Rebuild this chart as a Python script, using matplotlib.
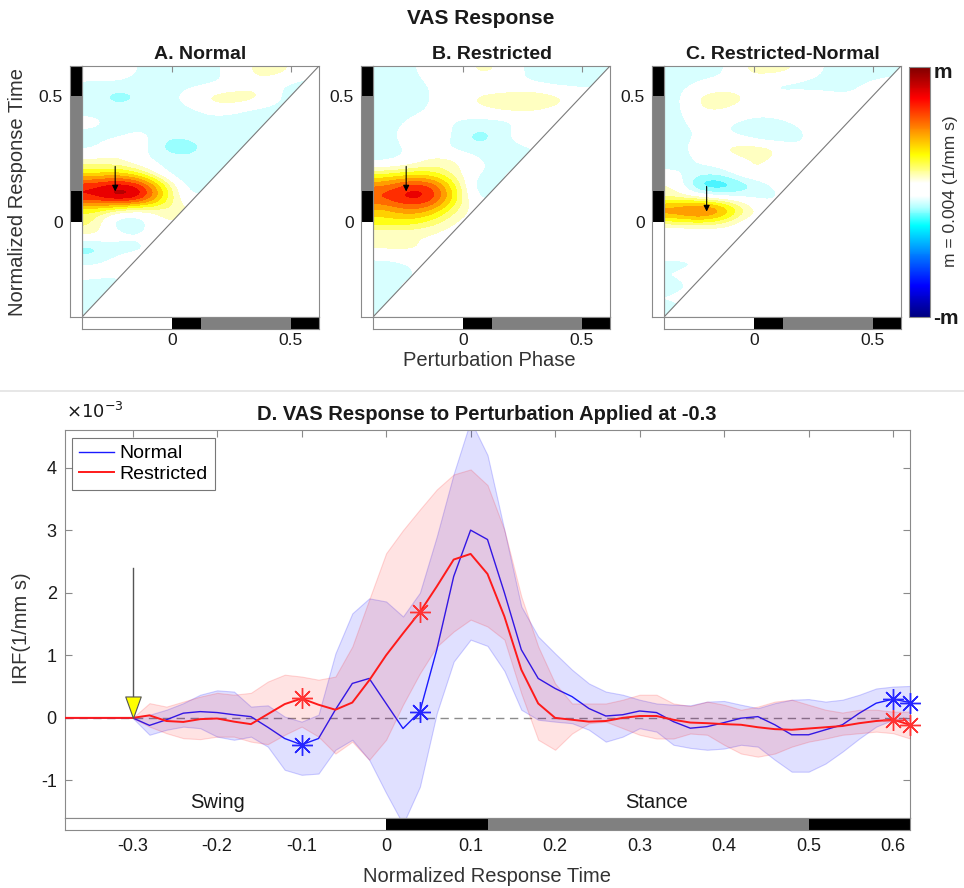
import numpy as np
import matplotlib
matplotlib.use("Agg")
import matplotlib.pyplot as plt
from matplotlib.colors import LinearSegmentedColormap, ListedColormap, BoundaryNorm, Normalize
from matplotlib.patches import Rectangle
from matplotlib.path import Path
from matplotlib.lines import Line2D
from matplotlib.cm import ScalarMappable

plt.rcParams['font.family'] = ['Liberation Sans', 'DejaVu Sans']

# ------------------------------------------------------------------ data
phase_edges = [-0.38, 0.0, 0.12, 0.5, 0.62]
phase_colors = ['white', 'black', '#808080', 'black']
axis_lim = [-0.38, 0.62]

# heatmap grids (values in units of m); rows top (y=0.595) -> bottom (y=-0.355),
# cols x = -0.33, -0.23, ..., 0.57 (cells below the diagonal are hidden)
heat_normal = [
    [0.05, 0.05, -0.10, -0.12, -0.12, -0.10, 0.00, 0.12, 0.12, -0.05],
    [-0.12, -0.12, -0.12, -0.12, -0.10, -0.08, -0.05, 0.05, -0.10, -0.10],
    [-0.12, -0.22, -0.15, -0.12, 0.00, 0.15, 0.20, 0.12, -0.10, -0.10],
    [-0.12, -0.12, -0.12, -0.12, -0.10, 0.00, -0.05, -0.12, -0.10, -0.10],
    [0.00, -0.12, -0.12, -0.12, -0.15, -0.12, -0.12, -0.12, -0.10, -0.10],
    [-0.12, -0.12, 0.00, -0.15, -0.12, -0.12, -0.12, -0.10, -0.10, -0.10],
    [-0.10, 0.10, 0.00, -0.22, -0.22, -0.12, -0.12, -0.10, -0.10, -0.10],
    [0.08, 0.05, -0.05, -0.10, -0.12, -0.12, -0.10, -0.10, -0.10, -0.10],
    [0.30, 0.35, 0.20, -0.10, -0.22, -0.12, -0.10, -0.10, -0.10, -0.10],
    [0.75, 0.88, 0.78, 0.28, -0.15, -0.10, 0.00, 0.00, 0.00, 0.00],
    [0.78, 0.98, 0.88, 0.32, -0.10, 0.00, 0.00, 0.00, 0.00, 0.00],
    [0.25, 0.10, 0.00, 0.15, 0.10, 0.00, 0.00, 0.00, 0.00, 0.00],
    [0.20, -0.22, -0.15, 0.10, 0.00, 0.00, 0.00, 0.00, 0.00, 0.00],
    [0.10, 0.00, -0.05, 0.00, 0.00, 0.00, 0.00, 0.00, 0.00, 0.00],
    [-0.25, -0.12, -0.10, 0.00, 0.00, 0.00, 0.00, 0.00, 0.00, 0.00],
    [-0.10, 0.00, 0.00, 0.00, 0.00, 0.00, 0.00, 0.00, 0.00, 0.00],
    [0.00, -0.05, 0.00, 0.00, 0.00, 0.00, 0.00, 0.00, 0.00, 0.00],
    [-0.12, -0.12, 0.00, 0.00, 0.00, 0.00, 0.00, 0.00, 0.00, 0.00],
    [-0.12, -0.10, 0.00, 0.00, 0.00, 0.00, 0.00, 0.00, 0.00, 0.00],
    [-0.10, -0.10, 0.00, 0.00, 0.00, 0.00, 0.00, 0.00, 0.00, 0.00],
]
heat_restricted = [
    [-0.12, -0.10, 0.00, -0.03, 0.12, 0.05, -0.10, -0.10, -0.12, -0.10],
    [-0.12, -0.12, -0.05, 0.00, -0.05, -0.05, -0.05, -0.10, -0.10, -0.10],
    [-0.12, -0.15, -0.05, 0.00, 0.12, 0.15, 0.20, 0.15, 0.05, 0.00],
    [-0.12, -0.10, -0.05, 0.00, 0.05, 0.10, 0.10, 0.05, 0.00, 0.00],
    [-0.12, -0.05, 0.00, -0.08, -0.12, -0.12, -0.05, -0.05, 0.00, 0.00],
    [-0.12, 0.00, 0.12, -0.12, -0.22, -0.12, 0.10, 0.00, 0.00, 0.00],
    [-0.12, -0.05, 0.00, -0.12, -0.15, -0.12, -0.10, 0.00, 0.00, 0.00],
    [-0.12, -0.05, 0.10, 0.10, -0.05, -0.12, -0.10, 0.00, 0.00, 0.00],
    [0.20, 0.25, 0.25, 0.10, -0.08, -0.08, 0.00, 0.00, 0.00, 0.00],
    [0.55, 0.75, 0.70, 0.25, -0.20, -0.05, 0.00, 0.00, 0.00, 0.00],
    [0.70, 0.85, 0.80, 0.30, -0.15, 0.00, 0.00, 0.00, 0.00, 0.00],
    [0.40, 0.55, 0.45, 0.15, 0.00, 0.00, 0.00, 0.00, 0.00, 0.00],
    [0.30, 0.30, 0.20, 0.05, 0.00, 0.00, 0.00, 0.00, 0.00, 0.00],
    [0.05, 0.05, 0.05, 0.00, 0.00, 0.00, 0.00, 0.00, 0.00, 0.00],
    [0.12, 0.12, 0.05, 0.00, 0.00, 0.00, 0.00, 0.00, 0.00, 0.00],
    [-0.10, -0.05, 0.00, 0.00, 0.00, 0.00, 0.00, 0.00, 0.00, 0.00],
    [-0.12, -0.10, 0.00, 0.00, 0.00, 0.00, 0.00, 0.00, 0.00, 0.00],
    [-0.05, -0.05, 0.00, 0.00, 0.00, 0.00, 0.00, 0.00, 0.00, 0.00],
    [-0.12, -0.10, 0.00, 0.00, 0.00, 0.00, 0.00, 0.00, 0.00, 0.00],
    [-0.10, -0.10, 0.00, 0.00, 0.00, 0.00, 0.00, 0.00, 0.00, 0.00],
]
heat_difference = [
    [-0.12, -0.10, -0.10, 0.10, 0.12, 0.08, -0.05, -0.12, -0.12, -0.10],
    [-0.12, -0.05, 0.00, 0.00, -0.10, -0.12, -0.12, -0.10, -0.05, 0.00],
    [-0.12, 0.12, 0.16, 0.08, -0.05, 0.00, 0.00, -0.05, -0.05, 0.00],
    [-0.12, 0.08, 0.08, 0.00, 0.00, 0.05, 0.12, -0.05, 0.00, 0.00],
    [-0.12, 0.00, -0.05, -0.10, -0.12, -0.05, 0.00, -0.05, 0.00, 0.00],
    [-0.12, -0.05, -0.05, -0.12, -0.25, -0.12, 0.00, 0.00, 0.00, 0.00],
    [-0.12, 0.00, 0.10, 0.16, 0.14, -0.05, -0.05, 0.00, 0.00, 0.00],
    [-0.12, -0.05, 0.00, 0.05, 0.08, -0.05, 0.00, 0.00, 0.00, 0.00],
    [-0.05, -0.10, -0.10, 0.12, 0.05, -0.05, 0.00, 0.00, 0.00, 0.00],
    [0.10, -0.40, -0.40, -0.25, -0.05, 0.00, 0.00, 0.00, 0.00, 0.00],
    [0.12, 0.08, -0.02, -0.05, -0.12, 0.00, 0.00, 0.00, 0.00, 0.00],
    [0.62, 0.80, 0.60, 0.15, 0.00, 0.00, 0.00, 0.00, 0.00, 0.00],
    [0.18, 0.22, 0.15, -0.05, 0.00, 0.00, 0.00, 0.00, 0.00, 0.00],
    [-0.12, -0.10, -0.05, 0.00, 0.00, 0.00, 0.00, 0.00, 0.00, 0.00],
    [0.15, 0.12, 0.00, 0.00, 0.00, 0.00, 0.00, 0.00, 0.00, 0.00],
    [-0.12, -0.10, 0.00, 0.00, 0.00, 0.00, 0.00, 0.00, 0.00, 0.00],
    [-0.05, 0.00, 0.00, 0.00, 0.00, 0.00, 0.00, 0.00, 0.00, 0.00],
    [-0.10, -0.05, 0.00, 0.00, 0.00, 0.00, 0.00, 0.00, 0.00, 0.00],
    [-0.05, 0.00, 0.00, 0.00, 0.00, 0.00, 0.00, 0.00, 0.00, 0.00],
    [-0.10, -0.05, 0.00, 0.00, 0.00, 0.00, 0.00, 0.00, 0.00, 0.00],
]
panel_titles = ['A. Normal', 'B. Restricted', 'C. Restricted-Normal']
arrow_x = [-0.24, -0.24, -0.20]
arrow_tail_y = [0.22, 0.22, 0.14]
arrow_tip_y = [0.12, 0.12, 0.04]

# panel D: impulse response (x 1e-3)
time = [-0.38, -0.30, -0.28, -0.26, -0.24, -0.22, -0.20, -0.18, -0.16, -0.14,
        -0.12, -0.10, -0.08, -0.06, -0.04, -0.02, 0.00, 0.02, 0.04, 0.06,
        0.08, 0.10, 0.12, 0.14, 0.16, 0.18, 0.20, 0.22, 0.24, 0.26,
        0.28, 0.30, 0.32, 0.34, 0.36, 0.38, 0.40, 0.42, 0.44, 0.46,
        0.48, 0.50, 0.52, 0.54, 0.56, 0.58, 0.60, 0.62]
normal_mean = [0, 0, -0.12, -0.03, 0.075, 0.10, 0.085, 0.05, 0.02, -0.15,
               -0.33, -0.43, -0.33, 0.13, 0.55, 0.63, 0.23, -0.17, 0.10, 1.09,
               2.26, 3.00, 2.85, 2.00, 1.09, 0.63, 0.47, 0.34, 0.15, 0.03,
               0.05, 0.11, 0.085, -0.06, -0.165, -0.14, -0.075, -0.005, 0.02, -0.11,
               -0.27, -0.27, -0.19, -0.11, 0.075, 0.235, 0.30, 0.245]
normal_upper = [0, 0, 0.05, 0.13, 0.235, 0.37, 0.44, 0.42, 0.18, 0.20,
                0.02, -0.06, 0.05, 1.03, 1.67, 1.91, 1.86, 1.62, 2.0, 2.9,
                3.9, 4.75, 4.2, 3.0, 1.78, 1.30, 1.03, 0.77, 0.55, 0.42,
                0.37, 0.29, 0.23, 0.21, 0.20, 0.26, 0.27, 0.21, 0.155, 0.235,
                0.29, 0.30, 0.26, 0.29, 0.37, 0.47, 0.50, 0.51]
normal_lower = [0, 0, -0.27, -0.19, -0.14, -0.165, -0.30, -0.35, -0.30, -0.46,
                -0.83, -0.91, -0.89, -0.51, -0.35, -0.67, -1.20, -1.70, -1.10, 0.075,
                0.90, 1.25, 1.15, 0.75, 0.13, -0.03, -0.06, -0.085, -0.19, -0.38,
                -0.30, -0.165, -0.22, -0.43, -0.48, -0.51, -0.49, -0.43, -0.46, -0.67,
                -0.86, -0.86, -0.73, -0.54, -0.33, -0.14, -0.03, -0.03]
restricted_mean = [0, 0, 0.04, -0.05, -0.065, -0.02, -0.01, -0.06, -0.10, 0.06,
                   0.22, 0.31, 0.21, 0.13, 0.245, 0.60, 1.00, 1.35, 1.69, 2.10,
                   2.53, 2.62, 2.30, 1.62, 0.77, 0.23, 0.00, -0.03, -0.06, -0.05,
                   0.00, 0.03, 0.03, -0.03, -0.075, -0.085, -0.10, -0.11, -0.15, -0.18,
                   -0.19, -0.17, -0.15, -0.13, -0.085, -0.05, -0.03, -0.11]
restricted_upper = [0, 0, 0.235, 0.18, 0.26, 0.34, 0.40, 0.37, 0.40, 0.58,
                    0.69, 0.66, 0.61, 0.66, 1.14, 1.89, 2.63, 3.00, 3.33, 3.65,
                    3.89, 3.97, 3.72, 3.00, 1.94, 1.14, 0.55, 0.23, 0.23, 0.23,
                    0.29, 0.37, 0.37, 0.23, 0.19, 0.26, 0.21, 0.13, 0.18, 0.26,
                    0.29, 0.21, 0.13, 0.085, 0.13, 0.13, 0.10, 0.10]
restricted_lower = [0, 0, -0.14, -0.245, -0.325, -0.34, -0.30, -0.30, -0.38, -0.42,
                    -0.27, -0.14, -0.30, -0.57, -0.38, -0.67, -0.35, 0.21, 0.71, 1.14,
                    1.38, 1.57, 1.46, 1.25, 0.39, -0.35, -0.51, -0.25, -0.085, -0.06,
                    -0.165, -0.27, -0.33, -0.33, -0.25, -0.27, -0.43, -0.57, -0.62, -0.57,
                    -0.46, -0.38, -0.33, -0.27, -0.245, -0.22, -0.245, -0.33]
star_times = [-0.10, 0.04, 0.60, 0.62]
perturb_at = -0.3
perturb_arrow_top = 2.4
d_xticks = [-0.3, -0.2, -0.1, 0, 0.1, 0.2, 0.3, 0.4, 0.5, 0.6]
d_xticklabels = ['-0.3', '-0.2', '-0.1', '0', '0.1', '0.2', '0.3', '0.4', '0.5', '0.6']
d_yticks = [-1, 0, 1, 2, 3, 4]
d_yticklabels = ['-1', '0', '1', '2', '3', '4']
d_ylim = [-1.6, 4.6]

# ------------------------------------------------------------------ style
W, H = 964, 888
fig = plt.figure(figsize=(W / 100, H / 100), dpi=100)
SPINE = '#8a8a8a'
TXT = '#1a1a1a'

# continuous map for the colour bar
cbar_nodes = [(-1.0, (0.0, 0.0, 0.5)), (-0.75, (0.0, 0.0, 1.0)), (-0.5, (0.0, 0.5, 1.0)),
              (-0.27, (0.0, 1.0, 1.0)), (-0.12, (0.7, 1.0, 1.0)),
              (-0.03, (1.0, 1.0, 1.0)), (0.07, (1.0, 1.0, 1.0)), (0.15, (1.0, 1.0, 0.65)),
              (0.3, (1.0, 1.0, 0.0)), (0.5, (1.0, 0.55, 0.0)), (0.75, (1.0, 0.0, 0.0)),
              (1.0, (0.5, 0.0, 0.0))]
cbar_cmap = LinearSegmentedColormap.from_list(
    'vas', [((v + 1) / 2, c) for v, c in cbar_nodes])

# banded (contour-like) colours for the images: 10 negative bands, white, 10 positive bands
band_edges = [-1.05, -0.95, -0.85, -0.75, -0.65, -0.55, -0.45, -0.35, -0.25, -0.16, -0.065,
              0.07, 0.16, 0.25, 0.35, 0.45, 0.55, 0.65, 0.75, 0.85, 0.95, 1.05]
band_colors = [(0.0, 0.0, 0.55), (0.0, 0.0, 0.75), (0.0, 0.0, 0.95), (0.0, 0.2, 1.0),
               (0.0, 0.45, 1.0), (0.0, 0.65, 1.0), (0.0, 0.85, 1.0), (0.3, 0.96, 1.0),
               (0.6, 1.0, 1.0), (0.85, 1.0, 1.0),
               (1.0, 1.0, 1.0),
               (1.0, 1.0, 0.76), (1.0, 1.0, 0.45), (1.0, 1.0, 0.08), (1.0, 0.82, 0.0),
               (1.0, 0.62, 0.0), (1.0, 0.42, 0.0), (1.0, 0.18, 0.0), (0.92, 0.0, 0.0),
               (0.72, 0.0, 0.0), (0.55, 0.0, 0.0)]
band_cmap = ListedColormap(band_colors)
band_norm = BoundaryNorm(band_edges, len(band_colors), clip=True)


def fx(px):
    return px / W


def fy(py):
    return 1 - py / H


def style_spines(ax):
    for s in ax.spines.values():
        s.set_color(SPINE)
        s.set_linewidth(0.8)


def phase_bar(ax, vertical):
    for (a, b), c in zip(zip(phase_edges[:-1], phase_edges[1:]), phase_colors):
        if vertical:
            ax.add_patch(Rectangle((0, a), 1, b - a, facecolor=c, edgecolor='none'))
        else:
            ax.add_patch(Rectangle((a, 0), b - a, 1, facecolor=c, edgecolor='none'))
    style_spines(ax)


# ------------------------------------------------------------------ top heatmaps
main_left = [82, 373, 664]
grids = [heat_normal, heat_restricted, heat_difference]
for k in range(3):
    L = main_left[k]
    ax = fig.add_axes([fx(L), fy(317), fx(237), 251 / H])
    ax.imshow(np.array(grids[k]), cmap=band_cmap, norm=band_norm,
              extent=[axis_lim[0], axis_lim[1], axis_lim[0], axis_lim[1]],
              origin='upper', interpolation='bicubic', interpolation_stage='data',
              aspect='auto', zorder=1)
    ax.fill([axis_lim[0], axis_lim[1], axis_lim[1]],
            [axis_lim[0], axis_lim[0], axis_lim[1]], color='white', zorder=2)
    ax.plot(axis_lim, axis_lim, color='#7a7a7a', lw=0.8, zorder=3)
    ax.annotate('', xy=(arrow_x[k], arrow_tip_y[k]), xytext=(arrow_x[k], arrow_tail_y[k]),
                arrowprops=dict(arrowstyle='-|>', color='black', lw=0.8,
                                mutation_scale=9, shrinkA=0, shrinkB=0), zorder=4)
    ax.set_xlim(axis_lim)
    ax.set_ylim(axis_lim)
    ax.set_xticks([0, 0.5])
    ax.set_yticks([0, 0.5])
    ax.tick_params(top=True, bottom=False, left=False, right=True, direction='in',
                   length=4, color=SPINE, labelbottom=False, labelleft=False)
    style_spines(ax)
    ax.set_title(panel_titles[k], fontsize=14, fontweight='bold', pad=5, color=TXT)

    axl = fig.add_axes([fx(L - 12), fy(317), fx(12), 251 / H])
    phase_bar(axl, True)
    axl.set_ylim(axis_lim)
    axl.set_xlim(0, 1)
    axl.set_xticks([])
    axl.set_yticks([0, 0.5])
    axl.set_yticklabels(['0', '0.5'])
    axl.tick_params(axis='y', length=0, labelsize=12.5, pad=5, labelcolor=TXT)

    axb = fig.add_axes([fx(L), fy(329), fx(237), 12 / H])
    phase_bar(axb, False)
    axb.set_xlim(axis_lim)
    axb.set_ylim(0, 1)
    axb.set_yticks([])
    axb.set_xticks([0, 0.5])
    axb.set_xticklabels(['0', '0.5'])
    axb.tick_params(axis='x', length=0, labelsize=12.5, pad=3, labelcolor=TXT)

# colorbar
cax = fig.add_axes([fx(909), fy(317), fx(21), 250 / H])
cb = fig.colorbar(ScalarMappable(norm=Normalize(-1, 1), cmap=cbar_cmap), cax=cax)
cb.set_ticks([])
cb.outline.set_edgecolor(SPINE)
cb.outline.set_linewidth(0.8)
fig.text(fx(943), fy(72), 'm', fontsize=15, fontweight='bold', ha='center', va='center', color=TXT)
fig.text(fx(946), fy(318), '-m', fontsize=15, fontweight='bold', ha='center', va='center', color=TXT)
fig.text(fx(950), fy(191), 'm = 0.004 (1/mm s)', fontsize=12.5, rotation=90,
         ha='center', va='center', color='#333333')

fig.text(fx(481), fy(18), 'VAS Response', fontsize=15, fontweight='bold',
         ha='center', va='center', color=TXT)
fig.text(fx(18), fy(192), 'Normalized Response Time', fontsize=14.5, rotation=90,
         ha='center', va='center', color='#333333')
fig.text(fx(489), fy(361), 'Perturbation Phase', fontsize=14.5,
         ha='center', va='center', color='#333333')

fig.add_artist(Line2D([0, 1], [fy(391), fy(391)], transform=fig.transFigure,
                      color='#e3e3e3', lw=1.2))

# ------------------------------------------------------------------ panel D
axd = fig.add_axes([fx(65), fy(818), fx(845), 388 / H])
t = np.array(time)
axd.axhline(0, color='#8c8c8c', lw=1, ls=(0, (6, 4)), zorder=1)
axd.fill_between(t, normal_lower, normal_upper, facecolor=(0, 0, 1, 0.12),
                 edgecolor=(0, 0, 1, 0.18), lw=0.8, zorder=2)
axd.plot(t, normal_mean, color=(0.1, 0.1, 1.0), lw=1.0, zorder=3, label='Normal')
axd.fill_between(t, restricted_lower, restricted_upper, facecolor=(1, 0, 0, 0.11),
                 edgecolor=(1, 0, 0, 0.15), lw=0.8, zorder=4)
axd.plot(t, restricted_mean, color=(1.0, 0.1, 0.1), lw=1.4, zorder=5, label='Restricted')

asterisk = (8, 2, 0)
n_star = [normal_mean[time.index(s)] for s in star_times]
r_star = [restricted_mean[time.index(s)] for s in star_times]
axd.plot(star_times, n_star, ls='none', marker=asterisk, ms=15, mew=1.0,
         color=(0.15, 0.15, 1.0), zorder=6, clip_on=False)
axd.plot(star_times, r_star, ls='none', marker=asterisk, ms=15, mew=1.0,
         color=(1.0, 0.2, 0.2), zorder=6, clip_on=False)

# perturbation arrow (gray shaft + yellow head)
head = Path([(0, 0), (-0.36, 1), (0.36, 1), (0, 0)],
            [Path.MOVETO, Path.LINETO, Path.LINETO, Path.CLOSEPOLY])
axd.plot([perturb_at, perturb_at], [perturb_arrow_top, 0.3], color='#555555', lw=1.0, zorder=7)
axd.plot([perturb_at], [0], marker=head, ms=31, mfc='#ffff00', mec='#555555', mew=0.8,
         ls='none', zorder=8)

axd.set_xlim(axis_lim)
axd.set_ylim(d_ylim)
axd.set_xticks(d_xticks)
axd.set_yticks(d_yticks)
axd.set_yticklabels(d_yticklabels)
axd.tick_params(axis='x', top=True, bottom=False, labelbottom=False, direction='in',
                length=5, color=SPINE)
axd.tick_params(axis='y', left=True, right=True, direction='in', length=5, color=SPINE,
                labelsize=13, labelcolor=TXT, pad=6)
style_spines(axd)
axd.text(-0.2, -1.5, 'Swing', fontsize=14.5, ha='center', va='bottom', color=TXT)
axd.text(0.32, -1.5, 'Stance', fontsize=14.5, ha='center', va='bottom', color=TXT)
leg = axd.legend(loc='upper left', bbox_to_anchor=(7 / 845, 1 - 8 / 388), borderaxespad=0,
                 fontsize=14, frameon=True, fancybox=False, handlelength=1.8,
                 handletextpad=0.3, borderpad=0.35, labelspacing=0.15)
leg.get_frame().set_edgecolor('#555555')
leg.get_frame().set_linewidth(0.8)

axdb = fig.add_axes([fx(65), fy(830), fx(845), 12 / H])
phase_bar(axdb, False)
axdb.set_xlim(axis_lim)
axdb.set_ylim(0, 1)
axdb.set_yticks([])
axdb.set_xticks(d_xticks)
axdb.set_xticklabels(d_xticklabels)
axdb.tick_params(axis='x', length=0, labelsize=13, pad=6, labelcolor=TXT)

fig.text(fx(487), fy(414), 'D. VAS Response to Perturbation Applied at -0.3', fontsize=14.5,
         fontweight='bold', ha='center', va='center', color=TXT)
fig.text(fx(66), fy(412), r'$\times10^{-3}$', fontsize=13, ha='left', va='center', color=TXT)
fig.text(fx(22), fy(628), 'IRF(1/mm s)', fontsize=14.5, rotation=90, ha='center',
         va='center', color='#333333')
fig.text(fx(487), fy(876), 'Normalized Response Time', fontsize=14.5, ha='center',
         va='center', color='#333333')

fig.savefig('out.png', dpi=100)
